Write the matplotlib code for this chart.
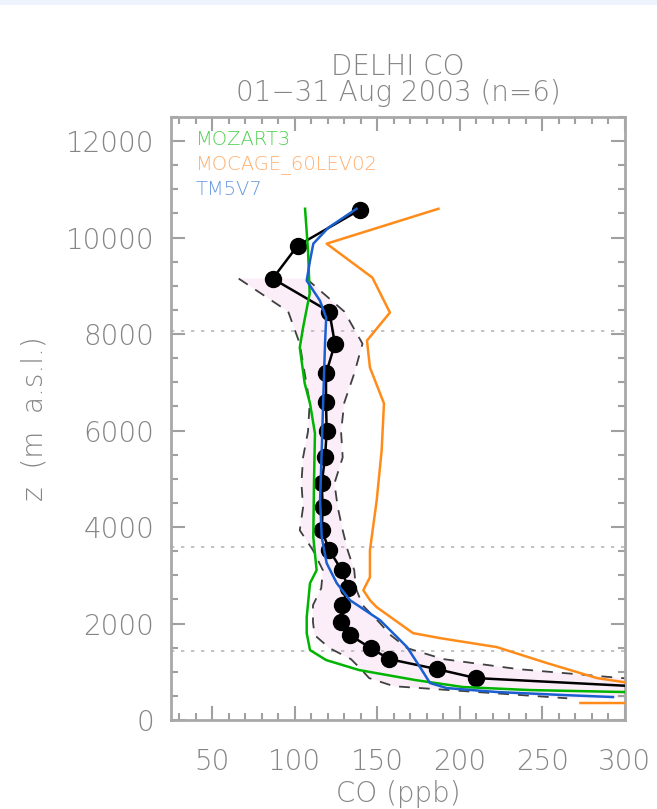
import numpy as np
import matplotlib
matplotlib.use("Agg")
import matplotlib.pyplot as plt
from matplotlib.patches import Rectangle

plt.rcParams["font.family"] = ["DejaVu Sans"]
plt.rcParams["font.weight"] = "light"
plt.rcParams["axes.labelweight"] = "light"

GREY = "#858585"

# observations (MOZAIC profile): altitude, mean and envelope
obs_z = [10578, 9833, 9150, 8466, 7800, 7183, 6583, 5982, 5444, 4906, 4409,
         3933, 3519, 3105, 2732, 2381, 2029, 1760, 1490, 1262, 1056, 869, 700, 450]
obs_mean = [139.5, 101.7, 86.6, 120.9, 124.3, 118.9, 118.9, 119.3, 118.3, 116.3, 116.9,
            116.3, 120.9, 128.4, 132.4, 128.4, 127.8, 133.4, 146.0, 157.2, 185.9, 209.7, 306, 400]
obs_lo = [np.nan, np.nan, 66, 96, 103, 106, 109, 108, 105, 104, 105,
          103, 111, 117, 116, 111, 111, 112, 121, 134, 140, 145, 160, 265]
obs_hi = [np.nan, np.nan, 107, 130, 141, 136, 130, 128, 129, 124, 126,
          129, 132, 136, 137, 141, 151, 158, 168, 190, 235, 298, 400, 500]

# models
mozart_z = [10598, 9729, 8839, 8135, 7721, 6976, 6562, 5941, 4906, 3788, 3105,
            2836, 2132, 1801, 1449, 1242, 1035, 828, 683, 621, 580, 540]
mozart_co = [106.2, 108, 109, 105, 103, 106, 109.2, 112.2, 111.6, 111.2, 113.2,
             109.2, 107.2, 107.2, 109.2, 119, 139, 173, 202, 242, 299, 360]

mocage_z = [10598, 9874, 9170, 8446, 7866, 7307, 6562, 5589, 4554, 3519, 2960,
            2691, 2484, 2339, 1801, 1697, 1511, 1180, 869, 787, 650, 352, 352]
mocage_co = [187, 119.3, 147, 157.6, 143.7, 145.5, 154, 152.6, 149.6, 145.5, 145.5,
             141.5, 145.5, 149.6, 171.6, 188, 222.4, 252.7, 283, 298.8, 330, 330, 273]

tm5_z = [10598, 10205, 9874, 9522, 9108, 8694, 8342, 7804, 6624, 5589, 4554,
         3788, 3250, 2836, 2484, 2070, 1511, 1097, 766, 662, 580, 518, 476]
tm5_co = [137.4, 120.3, 111.2, 109.2, 107.2, 115.2, 119, 118.3, 117.2, 116.3, 115.3,
          116.3, 119.3, 125.4, 133.4, 151.6, 168, 175.8, 181.9, 192, 222.4, 262.4, 292.7]

ref_levels = [8070, 3580, 1430]

model_names = ["MOZART3", "MOCAGE_60LEV02", "TM5V7"]
label_colors = ["#4fcf4f", "#ffad6b", "#6797de"]

fig = plt.figure(figsize=(6.57, 8.09), dpi=100)
fig.patches.append(Rectangle((0, 1 - 5 / 809), 1, 5 / 809, transform=fig.transFigure,
                             facecolor="#eef3fd", edgecolor="none"))
ax = fig.add_axes([171 / 657, 1 - 720 / 809, 454 / 657, 603 / 809])

z = np.array(obs_z, dtype=float)
lo = np.array(obs_lo, dtype=float)
hi = np.array(obs_hi, dtype=float)
ok = ~np.isnan(lo)
ax.fill_betweenx(z[ok], lo[ok], hi[ok], color="#fbeef8", lw=0, zorder=1)
ax.plot(lo[ok], z[ok], color="#404040", lw=1.3, ls=(0, (6, 5)), zorder=2)
ax.plot(hi[ok], z[ok], color="#404040", lw=1.3, ls=(0, (6, 5)), zorder=2)

for lev in ref_levels:
    ax.axhline(lev, color="#b8b8b8", lw=1.2, ls=(0, (2, 4)), zorder=1)

ax.plot(obs_mean, obs_z, color="black", lw=1.8, marker="o", ms=11.5, zorder=3)
ax.plot(mozart_co, mozart_z, color="#00b400", lw=1.8, zorder=4)
ax.plot(mocage_co, mocage_z, color="#ff8c1a", lw=1.8, zorder=4)
ax.plot(tm5_co, tm5_z, color="#1a5fd0", lw=1.8, zorder=5)

for i, (name, c) in enumerate(zip(model_names, label_colors)):
    ax.text(0.055, 0.962 - i * 0.041, name, transform=ax.transAxes, color=c,
            fontsize=14, va="center", ha="left")

ax.set_xlim(25, 300)
ax.set_ylim(0, 12500)
ax.set_xticks(np.arange(50, 301, 50))
ax.set_xticks(np.arange(30, 301, 10), minor=True)
ax.set_yticks(np.arange(0, 12001, 2000))
ax.set_yticks(np.arange(0, 12501, 500), minor=True)

for s in ax.spines.values():
    s.set_color("#a8a8a8")
    s.set_linewidth(2)
ax.tick_params(which="both", direction="in", top=True, right=True, color="#a0a0a0",
               width=1.5, labelcolor=GREY, labelsize=20)
ax.tick_params(which="major", length=10)
ax.tick_params(which="minor", length=5)
ax.tick_params(axis="x", pad=20)
ax.tick_params(axis="y", pad=12)

ax.set_xlabel("CO (ppb)", fontsize=20, color=GREY, labelpad=3, fontweight="light")
ax.set_ylabel("z  (m  a.s.l.)", fontsize=20, color=GREY, fontweight="light")
ax.yaxis.set_label_coords(-0.27, 0.5)

fig.text(398 / 657, 1 - 80 / 809, "DELHI CO\n01\u221231 Aug 2003 (n=6)", ha="center",
         va="center", fontsize=20, color=GREY, linespacing=0.88)

fig.savefig("out.png", dpi=100, facecolor="white")
